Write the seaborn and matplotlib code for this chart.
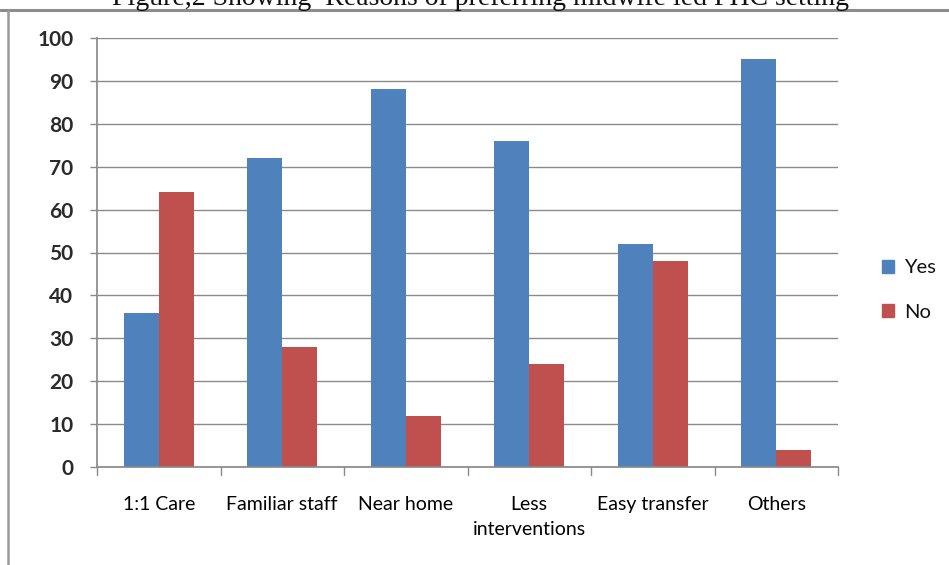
import matplotlib
matplotlib.use("Agg")
import matplotlib.pyplot as plt
import seaborn as sns
import pandas as pd
from matplotlib.lines import Line2D

categories = ["1:1 Care", "Familiar staff", "Near home", "Less\ninterventions", "Easy transfer", "Others"]
yes_values = [36, 72, 88, 76, 52, 95]
no_values = [64, 28, 12, 24, 48, 4]
series = ["Yes", "No"]
colors = ["#4F81BD", "#C0504D"]
y_ticks = list(range(0, 101, 10))
title = "Figure,2 Showing  Reasons of preferring midwife led PHC setting"

df = pd.DataFrame({
    "Category": categories * 2,
    "Value": yes_values + no_values,
    "Series": [series[0]] * len(categories) + [series[1]] * len(categories),
})

sns.set_theme(style="white")
plt.rcParams['font.family'] = ['Lato', 'DejaVu Sans']

W, H = 949, 565
fig = plt.figure(figsize=(W / 100, H / 100), dpi=100)
ax = fig.add_axes([97 / W, (H - 467) / H, (838 - 97) / W, (467 - 38) / H])

sns.barplot(data=df, x="Category", y="Value", hue="Series", order=categories,
            hue_order=series, palette=colors, width=0.57, saturation=1,
            linewidth=0, edgecolor="none", ax=ax, legend=False)

ax.set_ylim(0, 100)
ax.set_xlim(-0.5, len(categories) - 0.5)
ax.set_yticks(y_ticks)
ax.set_yticklabels([str(t) for t in y_ticks], fontsize=15, fontweight="bold", color="#2a2a2a")
ax.set_xticks(range(len(categories)))
ax.set_xticklabels(categories, fontsize=14, color="#000000", linespacing=1.55)
ax.tick_params(axis="x", length=0, pad=21)
ax.tick_params(axis="y", length=5, color="#8a8a8a", width=1, pad=12, left=True)
ax.set_xlabel("")
ax.set_ylabel("")
ax.grid(axis="y", color="#8a8a8a", linewidth=1)
ax.set_axisbelow(True)
for s in ["top", "right"]:
    ax.spines[s].set_visible(False)
ax.spines["left"].set_color("#8a8a8a")
ax.spines["bottom"].set_color("#8a8a8a")

# category separator ticks on x axis
for b in range(len(categories) + 1):
    ax.plot([b - 0.5, b - 0.5], [0, -1.8], color="#8a8a8a", lw=1, clip_on=False)

# legend
handles = [plt.Rectangle((0, 0), 1, 1, color=c) for c in colors]
leg = fig.legend(handles, series, loc="center left", bbox_to_anchor=(864 / W, 1 - 290 / H),
                 frameon=False, fontsize=14.5, handlelength=0.6, handleheight=0.6,
                 handletextpad=0.5, labelspacing=1.35)
for t in leg.get_texts():
    t.set_color("#111111")

# title (cut at top, as in the source image) and outer frame
fig.text(481 / W, 1 - 5 / H, title, ha="center", va="baseline", fontsize=20,
         family=["Liberation Serif", "DejaVu Serif"], color="#111111")
fig.add_artist(Line2D([0, 1], [1 - 10 / H, 1 - 10 / H], color="#8c8c8c", lw=2.2, transform=fig.transFigure))
fig.add_artist(Line2D([8 / W, 8 / W], [0, 1 - 10 / H], color="#9a9a9a", lw=1.8, transform=fig.transFigure))

fig.savefig("out.png", dpi=100)
